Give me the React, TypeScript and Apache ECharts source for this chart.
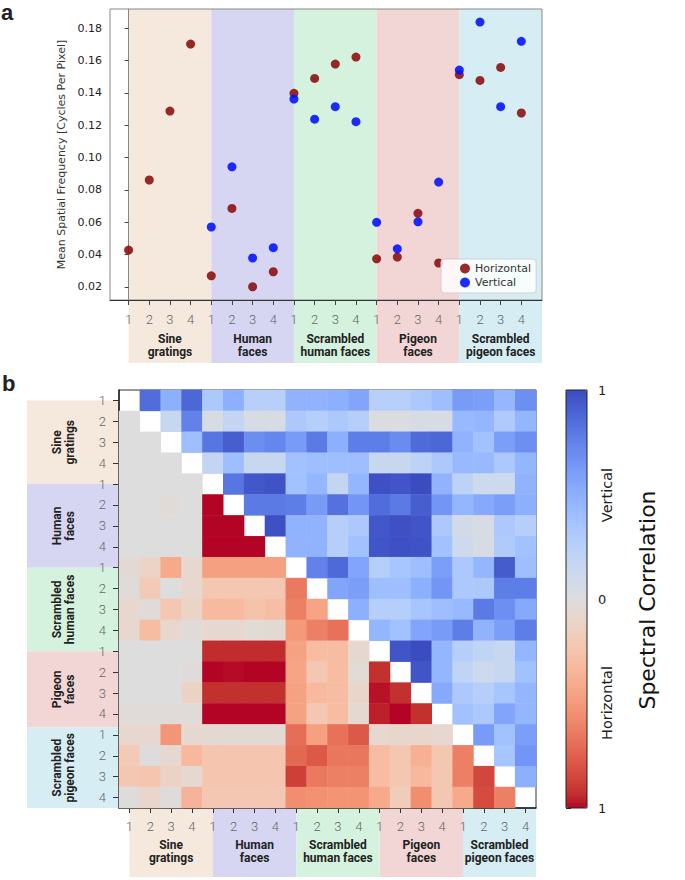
import React, { useEffect, useRef } from 'react';
import * as echarts from 'echarts';

// ---------- data ----------
const groupLabels = ['Sine\ngratings', 'Human\nfaces', 'Scrambled\nhuman faces', 'Pigeon\nfaces', 'Scrambled\npigeon faces'];
const stimulusLabels = ['1', '2', '3', '4'];
const groupColors = ['#f5e8dc', '#d6d6f2', '#d5f2de', '#f2d6d6', '#d5edf3'];

// panel a: mean spatial frequency per stimulus (20 stimuli, 5 groups x 4)
const horizontalSF = [0.0427, 0.0861, 0.1288, 0.1703, 0.0268, 0.0685, 0.0200, 0.0293, 0.1398, 0.1490, 0.1579, 0.1622, 0.0373, 0.0384, 0.0655, 0.0347, 0.1513, 0.1478, 0.1558, 0.1276];
const verticalSF = [null, null, null, null, 0.0570, 0.0943, 0.0378, 0.0442, 0.1362, 0.1238, 0.1315, 0.1222, 0.0599, 0.0435, 0.0602, 0.0848, 0.1542, 0.1839, 0.1315, 0.1720];
const yTickValues = [0.02, 0.04, 0.06, 0.08, 0.10, 0.12, 0.14, 0.16, 0.18];

// band extents, in stimulus-index units
const topBandEdges = [0, 4, 8, 12, 16, 20];
const heatBottomBandEdges = [0, 4, 8, 12, 16, 19.5];
const heatLeftBandEdges = [0, 4, 8, 12, 15.65, 19.5];

// panel b: spectral correlation; upper triangle = vertical, lower triangle = horizontal
const verticalUpper = [
  [0.85, 0.5, 0.88, 0.32, 0.5, 0.25, 0.25, 0.48, 0.48, 0.5, 0.56, 0.25, 0.25, 0.32, 0.4, 0.62, 0.6, 0.45, 0.68],
  [0.15, 0.75, 0.05, 0.18, 0.05, 0.05, 0.32, 0.27, 0.32, 0.27, 0.02, 0.03, 0.05, 0.05, 0.44, 0.46, 0.3, 0.46],
  [0.4, 0.81, 0.92, 0.69, 0.73, 0.62, 0.79, 0.5, 0.77, 0.77, 0.7, 0.86, 0.88, 0.48, 0.38, 0.6, 0.68],
  [0.18, 0.4, 0.15, 0.15, 0.38, 0.4, 0.4, 0.4, 0.15, 0.15, 0.22, 0.32, 0.44, 0.44, 0.32, 0.46],
  [0.81, 0.95, 0.97, 0.38, 0.46, 0.18, 0.46, 0.98, 0.96, 1.0, 0.48, 0.22, 0.12, 0.12, 0.48],
  [0.79, 0.79, 0.77, 0.62, 0.83, 0.65, 0.85, 0.79, 0.92, 0.65, 0.46, 0.54, 0.6, 0.5],
  [0.98, 0.48, 0.48, 0.27, 0.32, 0.95, 0.98, 0.96, 0.32, 0.08, 0.05, 0.32, 0.27],
  [0.48, 0.48, 0.27, 0.38, 0.96, 0.98, 0.97, 0.38, 0.12, 0.05, 0.3, 0.38],
  [0.75, 0.87, 0.56, 0.27, 0.35, 0.4, 0.6, 0.32, 0.46, 0.93, 0.4],
  [0.56, 0.6, 0.4, 0.4, 0.5, 0.65, 0.32, 0.32, 0.77, 0.77],
  [0.5, 0.27, 0.27, 0.35, 0.4, 0.44, 0.79, 0.68, 0.54],
  [0.46, 0.38, 0.56, 0.62, 0.77, 0.48, 0.6, 0.77],
  [0.96, 1.0, 0.46, 0.27, 0.2, 0.15, 0.46],
  [0.96, 0.46, 0.2, 0.12, 0.15, 0.38],
  [0.54, 0.32, 0.27, 0.35, 0.46],
  [0.38, 0.32, 0.56, 0.46],
  [0.62, 0.38, 0.6],
  [0.35, 0.65],
  [0.5],
  [],
];
const horizontalLower = [
  [],
  [0],
  [0, 0],
  [0, 0, 0],
  [0, 0, 0, 0],
  [0, 0, 0.03, 0, 1.0],
  [0, 0, 0, 0, 1.0, 1.0],
  [0, 0, 0, 0, 1.0, 1.0, 1.0],
  [0.05, 0.12, 0.42, 0.08, 0.47, 0.47, 0.47, 0.47],
  [0.02, 0.2, 0, 0.08, 0.22, 0.22, 0.22, 0.22, 0.65],
  [0.08, 0.02, 0.22, 0.12, 0.32, 0.32, 0.26, 0.29, 0.62, 0.45],
  [0.08, 0.3, 0.08, 0.02, 0.07, 0.07, 0.04, 0.05, 0.5, 0.62, 0.68],
  [0, 0, 0, 0, 0.94, 0.94, 0.94, 0.94, 0.46, 0.3, 0.3, 0.07],
  [0, 0, 0, 0.02, 1.0, 0.99, 1.0, 1.0, 0.45, 0.22, 0.3, 0.04, 0.93],
  [0, 0, 0, 0.13, 0.93, 0.93, 0.93, 0.93, 0.46, 0.32, 0.3, 0.1, 0.98, 0.93],
  [0.02, 0.02, 0.02, 0.02, 1.0, 1.0, 1.0, 1.0, 0.46, 0.22, 0.3, 0.06, 0.96, 1.0, 0.93],
  [0.08, 0.08, 0.52, 0.07, 0.05, 0.05, 0.05, 0.05, 0.7, 0.47, 0.68, 0.78, 0.07, 0.09, 0.09, 0.07],
  [0.2, 0.01, 0.07, 0.33, 0.24, 0.24, 0.24, 0.24, 0.72, 0.78, 0.66, 0.66, 0.3, 0.22, 0.38, 0.22, 0.62],
  [0.22, 0.24, 0.13, 0.07, 0.24, 0.24, 0.24, 0.24, 0.88, 0.65, 0.62, 0.62, 0.3, 0.22, 0.33, 0.22, 0.62, 0.85],
  [0.01, 0.09, 0.01, 0.36, 0.22, 0.22, 0.22, 0.22, 0.56, 0.54, 0.53, 0.53, 0.42, 0.18, 0.56, 0.22, 0.42, 0.83, 0.62],
];

// matplotlib "coolwarm", blue (+1, vertical) -> red (-1, horizontal)
const coolwarm = ['#3b4cc0', '#445acc', '#4d68d7', '#5775e1', '#6282ea', '#6c8ef1', '#779af7', '#82a5fb', '#8db0fe', '#98b9ff', '#a3c2ff', '#aec9fd', '#b8d0f9', '#c2d5f4', '#ccd9ee', '#d5dbe6', '#dddddd', '#e5d8d1', '#ecd3c5', '#f2cbb7', '#f5c4ad', '#f7bba0', '#f7b194', '#f6a687', '#f49a7b', '#f18d6f', '#ec7f63', '#e77058', '#e0614d', '#d85142', '#ce4038', '#c22f2e', '#b40426'];

// ---------- derived ----------
const nStim = horizontalSF.length;
const stimIndex = Array.from({ length: nStim }, (_, i) => i);
const stimCategories = groupLabels.flatMap(() => stimulusLabels);
const bandData = (edges: number[]) => groupLabels.map((_, i) => [edges[i], edges[i + 1], i]);

const heatData: (number | null)[][] = [];
for (let r = 0; r < nStim; r++) {
  for (let c = 0; c < nStim; c++) {
    if (c > r) heatData.push([c, r, verticalUpper[r][c - r - 1]]);
    else if (c < r) heatData.push([c, r, -horizontalLower[r][c]]);
  }
}

const tickFont = { fontFamily: 'Roboto', fontSize: 13, color: '#666', fontWeight: 300 as any };
const mplFont = { fontFamily: 'DejaVu Sans', color: '#222' };

function makeBandRender(orient: 'h' | 'v', labelOffset: number) {
  return (params: any, api: any) => {
    const s = api.value(0), e = api.value(1), i = api.value(2);
    let x: number, y: number, w: number, h: number, tx: number, ty: number, rot = 0;
    if (orient === 'h') {
      const p0 = api.coord([s, 1]);
      const p1 = api.coord([e, 0]);
      x = p0[0]; y = p0[1]; w = p1[0] - p0[0]; h = p1[1] - p0[1];
      tx = x + w / 2; ty = y + h - labelOffset;
    } else {
      const p0 = api.coord([0, s]);
      const p1 = api.coord([1, e]);
      x = p0[0]; y = p0[1]; w = p1[0] - p0[0]; h = p1[1] - p0[1];
      tx = x + labelOffset; ty = y + h / 2; rot = Math.PI / 2;
    }
    return {
      type: 'group',
      children: [
        { type: 'rect', shape: { x, y, width: w, height: h }, style: { fill: groupColors[i] } },
        {
          type: 'text', x: tx, y: ty, rotation: rot,
          style: { text: groupLabels[i], align: 'center', verticalAlign: 'middle', font: 'bold 12px Roboto', fill: '#222', lineHeight: 13 },
        },
      ],
    };
  };
}

const option: any = {
  animation: false,
  backgroundColor: '#ffffff',
  grid: [
    { left: 110, top: 9, width: 432, height: 291, show: true, borderColor: '#888', borderWidth: 1, backgroundColor: 'transparent', containLabel: false },
    { left: 110, top: 9, width: 432, height: 354, show: false },
    { left: 119, top: 390, width: 417, height: 418, show: true, borderColor: '#333', borderWidth: 1, backgroundColor: '#ffffff' },
    { left: 119, top: 808, width: 417, height: 69, show: false },
    { left: 27, top: 390, width: 92, height: 418, show: false },
    { left: 566, top: 390, width: 21, height: 418, show: true, borderColor: '#222', borderWidth: 1, z: 10, backgroundColor: 'transparent' },
  ],
  xAxis: [
    {
      gridIndex: 0, type: 'value', min: -0.9, max: 20,
      axisLine: { show: true, lineStyle: { color: '#333', width: 1 } },
      axisTick: { show: true, customValues: stimIndex, length: 5, lineStyle: { color: '#444' } },
      axisLabel: { customValues: stimIndex, formatter: (v: number) => stimulusLabels[Math.round(v) % 4], margin: 13, ...tickFont },
      splitLine: { show: false },
    },
    { gridIndex: 1, type: 'value', min: -0.9, max: 20, show: false },
    {
      gridIndex: 2, type: 'category', data: stimCategories,
      axisLine: { show: true, lineStyle: { color: '#222', width: 1.5 } },
      axisTick: { show: true, alignWithLabel: true, length: 5, lineStyle: { color: '#333' } },
      axisLabel: { margin: 12, ...tickFont },
      splitLine: { show: false },
    },
    { gridIndex: 3, type: 'value', min: -0.5, max: 19.5, show: false },
    { gridIndex: 4, type: 'value', min: 0, max: 1, show: false },
    { gridIndex: 5, type: 'value', min: 0, max: 1, show: false },
  ],
  yAxis: [
    {
      gridIndex: 0, type: 'value', min: 0.0118, max: 0.192,
      name: 'Mean Spatial Frequency [Cycles Per Pixel]', nameLocation: 'middle', nameRotate: 90, nameGap: 43,
      nameTextStyle: { ...mplFont, fontSize: 11, color: '#333' },
      axisLine: { show: true, lineStyle: { color: '#888' } },
      axisTick: { show: true, customValues: yTickValues, length: 4, lineStyle: { color: '#444' } },
      axisLabel: { customValues: yTickValues, formatter: (v: number) => v.toFixed(2), margin: 8, ...mplFont, fontSize: 11 },
      splitLine: { show: false },
    },
    { gridIndex: 1, type: 'value', min: 0, max: 1, show: false },
    {
      gridIndex: 2, type: 'category', data: stimCategories, inverse: true,
      axisLine: { show: true, lineStyle: { color: '#222', width: 1.5 } },
      axisTick: { show: true, alignWithLabel: true, length: 6, lineStyle: { color: '#333' } },
      axisLabel: { margin: 13, ...tickFont },
      splitLine: { show: false },
    },
    { gridIndex: 3, type: 'value', min: 0, max: 1, show: false },
    { gridIndex: 4, type: 'value', min: -0.5, max: 19.5, inverse: true, show: false },
    {
      gridIndex: 5, type: 'value', min: -1, max: 1, interval: 1, position: 'right',
      axisLine: { show: false },
      axisTick: { show: true, length: 5, lineStyle: { color: '#222' } },
      axisLabel: { formatter: (v: number) => String(Math.abs(v)), margin: 11, ...mplFont, fontSize: 13 },
      splitLine: { show: false },
    },
  ],
  legend: {
    data: ['Horizontal', 'Vertical'], orient: 'vertical', left: 441, top: 259,
    padding: [4, 5, 5, 19], itemWidth: 10, itemHeight: 10, itemGap: 3, icon: 'circle',
    backgroundColor: 'rgba(255,255,255,0.8)', borderColor: '#cfcfcf', borderWidth: 1, borderRadius: 3,
    textStyle: { ...mplFont, fontSize: 11, color: '#333' },
  },
  visualMap: {
    type: 'continuous', min: -1, max: 1, seriesIndex: 3, orient: 'vertical',
    left: 566, top: 390, itemWidth: 21, itemHeight: 418, padding: 0,
    calculable: false, hoverLink: false, text: null, showLabel: false,
    inRange: { color: coolwarm.slice().reverse() },
  },
  series: [
    {
      name: 'Horizontal', type: 'scatter', xAxisIndex: 0, yAxisIndex: 0, symbolSize: 9, z: 3,
      itemStyle: { color: '#8a0c0c', opacity: 0.88 },
      data: horizontalSF.map((v, i) => [i, v]),
    },
    {
      name: 'Vertical', type: 'scatter', xAxisIndex: 0, yAxisIndex: 0, symbolSize: 9, z: 4,
      itemStyle: { color: '#0010ff', opacity: 0.88 },
      data: verticalSF.map((v, i) => [i, v]).filter((d) => d[1] !== null),
    },
    {
      type: 'custom', xAxisIndex: 1, yAxisIndex: 1, z: -1, silent: true,
      renderItem: makeBandRender('h', 18), data: bandData(topBandEdges),
    },
    {
      type: 'heatmap', xAxisIndex: 2, yAxisIndex: 2, data: heatData, z: 2,
      emphasis: { disabled: true },
    },
    {
      type: 'custom', xAxisIndex: 3, yAxisIndex: 3, z: -1, silent: true,
      renderItem: makeBandRender('h', 26), data: bandData(heatBottomBandEdges),
    },
    {
      type: 'custom', xAxisIndex: 4, yAxisIndex: 4, z: -1, silent: true,
      renderItem: makeBandRender('v', 36), data: bandData(heatLeftBandEdges),
    },
  ],
  graphic: [
    { type: 'text', left: 1, top: 1, style: { text: 'a', font: 'bold 22px "Liberation Sans"', fill: '#222' } },
    { type: 'text', left: 2, top: 372, style: { text: 'b', font: 'bold 22px "Liberation Sans"', fill: '#222' } },
    { type: 'text', x: 607, y: 495, rotation: Math.PI / 2, style: { text: 'Vertical', font: '14.5px "DejaVu Sans"', fill: '#222', align: 'center', verticalAlign: 'middle' } },
    { type: 'text', x: 607, y: 703, rotation: Math.PI / 2, style: { text: 'Horizontal', font: '14.5px "DejaVu Sans"', fill: '#222', align: 'center', verticalAlign: 'middle' } },
    { type: 'text', x: 647, y: 600, rotation: Math.PI / 2, style: { text: 'Spectral Correlation', font: '22px "DejaVu Sans"', fill: '#111', align: 'center', verticalAlign: 'middle' } },
  ],
};

export default function App() {
  const ref = useRef<HTMLDivElement>(null);
  useEffect(() => {
    document.body.style.margin = '0';
    const chart = echarts.init(ref.current!, null, { renderer: 'svg' });
    chart.setOption(option);
    return () => chart.dispose();
  }, []);
  return <div ref={ref} style={{ position: 'absolute', left: 0, top: 0, width: 685, height: 880, background: '#fff' }} />;
}
